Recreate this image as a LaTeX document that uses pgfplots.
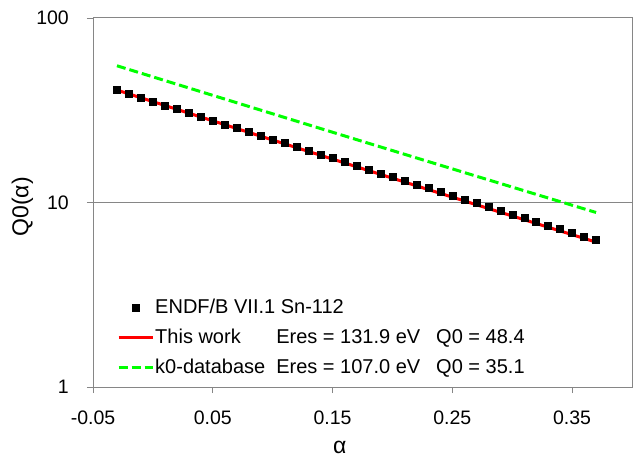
\documentclass[border=0pt]{standalone}
\usepackage{pgfplots}
\pgfplotsset{compat=1.18}
\usepackage{fontspec}
\setmainfont{Liberation Sans}
\definecolor{lgreen}{RGB}{0,255,0}
\definecolor{frame}{RGB}{134,134,134}
\begin{document}
\begin{tikzpicture}
\fontsize{20}{24}\selectfont
\begin{axis}[
  name=ax, at={(0,0)}, anchor=south west,
  scale only axis, width=539pt, height=369pt,
  xmin=-0.05, xmax=0.40, ymode=log, ymin=1, ymax=100,
  xtick={-0.05,0.05,0.15,0.25,0.35},
  xticklabels={-0.05,0.05,0.15,0.25,0.35},
  ytick={1,10,100}, yticklabels={1,10,100},
  minor ytick={}, log basis y=10,
  xtick pos=left, ytick pos=left,
  /pgf/number format/assume math mode=true,
  tick align=outside, major tick length=6pt,
  tick style={frame, line width=0.8pt},
  axis line style={frame, line width=1pt},
  ymajorgrids, grid style={frame, line width=1pt},
  ticklabel style={font=\fontsize{19.5}{23}\selectfont, inner sep=0pt},
  xticklabel style={anchor=base, yshift=-31pt},
  yticklabel style={anchor=east, xshift=-18pt},
  xlabel={α}, ylabel={Q0(α)},
  label style={font=\fontsize{23}{27}\selectfont},
  xlabel style={at={(axis description cs:0.458,-0.1626)}, anchor=center},
  ylabel style={at={(axis description cs:-0.1308,0.488)}, anchor=center},
  legend cell align=left,
  legend style={draw=none, fill=none, at={(axis description cs:0.039,0.02)}, anchor=south west,
    font=\fontsize{20}{24}\selectfont, row sep=10.5pt,
    nodes={inner sep=1pt}},
  legend image code/.code={\draw[#1] (0pt,0pt) -- (34pt,0pt);},
]
\addplot[lgreen, line width=3pt, dash pattern=on 9pt off 4pt, forget plot] coordinates {
(-0.03,55.10) (0.02,43.74) (0.07,34.73) (0.12,27.59) (0.17,21.93) (0.22,17.45) (0.27,13.89) (0.32,11.07) (0.37,8.83)};
\addplot[red, line width=3pt, forget plot] coordinates {
(-0.03,40.69) (0.02,32.00) (0.07,25.18) (0.12,19.83) (0.17,15.63) (0.22,12.32) (0.27,9.73) (0.32,7.70) (0.37,6.10)};
\addplot[only marks, mark=square*, mark size=3.5pt, black,
  legend image code/.code={\draw[mark repeat=1, mark phase=1] plot coordinates {(17pt,0pt)};}] coordinates {
(-0.03,40.69) (-0.02,38.81) (-0.01,37.01) (0.00,35.30) (0.01,33.67) (0.02,32.11) (0.03,30.63) (0.04,29.21)
(0.05,27.86) (0.06,26.57) (0.07,25.35) (0.08,24.18) (0.09,23.07) (0.10,22.00) (0.11,20.99) (0.12,20.02)
(0.13,19.10) (0.14,18.23) (0.15,17.39) (0.16,16.59) (0.17,15.83) (0.18,15.11) (0.19,14.41) (0.20,13.75)
(0.21,13.13) (0.22,12.53) (0.23,11.96) (0.24,11.41) (0.25,10.89) (0.26,10.40) (0.27,9.92) (0.28,9.47)
(0.29,9.05) (0.30,8.64) (0.31,8.25) (0.32,7.87) (0.33,7.52) (0.34,7.18) (0.35,6.86) (0.36,6.55) (0.37,6.26)};
\addlegendentry{ENDF/B VII.1 Sn-112}
\addlegendimage{red, line width=3pt}
\addlegendentry{\makebox[0pt][l]{This work}\hphantom{k0-database}\hspace{11pt}Eres = 131.9 eV\hspace{16pt}Q0 = 48.4}
\addlegendimage{lgreen, line width=3pt, dash pattern=on 9pt off 4pt}
\addlegendentry{k0-database\hspace{11pt}Eres = 107.0 eV\hspace{16pt}Q0 = 35.1}
\end{axis}
\pgfresetboundingbox
\path[use as bounding box] ([xshift=-93pt,yshift=-71pt]ax.south west) rectangle ([xshift=3pt,yshift=18pt]ax.north east);
\end{tikzpicture}
\end{document}
